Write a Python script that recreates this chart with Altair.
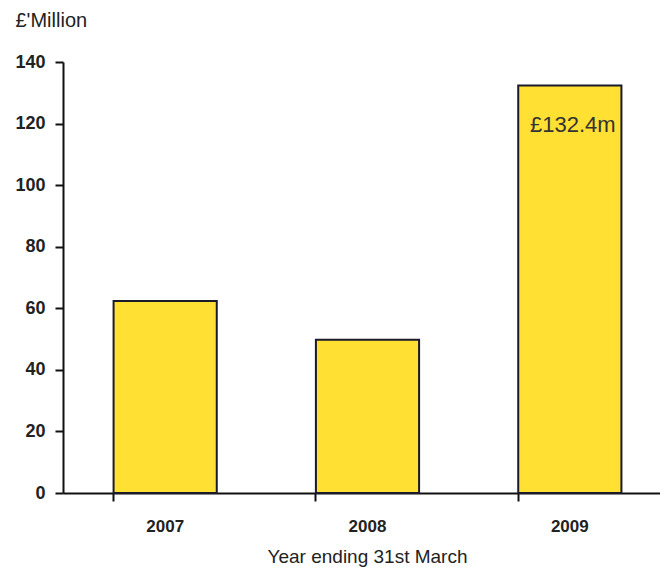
import altair as alt
import pandas as pd

years = ["2007", "2008", "2009"]
values = [62.4, 49.8, 132.4]
labels = ["", "", "£132.4m"]

df = pd.DataFrame({"year": years, "value": values, "label": labels})

FONT = "Liberation Sans"

base = alt.Chart(df).encode(
    x=alt.X("year:N", sort=years,
            scale=alt.Scale(paddingInner=0.49, paddingOuter=0.25, range=[0, 609]),
            axis=alt.Axis(title="Year ending 31st March", labelAngle=0,
                          bandPosition=0, tickSize=8, tickWidth=2,
                          tickColor="#111", domainColor="#111", domainWidth=2,
                          labelFont=FONT, labelFontSize=17, labelFontWeight="bold",
                          labelColor="#222", labelPadding=17,
                          titleFont=FONT, titleFontSize=19, titleFontWeight="normal",
                          titleColor="#222", titlePadding=13, titleX=304)),
)

bars = base.mark_bar(color="#FFE033", stroke="#1a1a2a", strokeWidth=2).encode(
    y=alt.Y("value:Q", scale=alt.Scale(domain=[0, 140], nice=False),
            axis=alt.Axis(values=[0, 20, 40, 60, 80, 100, 120, 140], grid=False,
                          tickSize=8, tickWidth=2, tickColor="#111",
                          domainColor="#111", domainWidth=2,
                          labelFont=FONT, labelFontSize=18, labelFontWeight="bold",
                          labelColor="#222", labelPadding=10,
                          title="£'Million", titleAngle=0, titleAlign="left",
                          titleBaseline="middle", titleX=-48, titleY=-42,
                          titleFont=FONT, titleFontSize=20, titleFontWeight="normal",
                          titleColor="#222"))
)

text = base.mark_text(font=FONT, fontSize=22, color="#333", baseline="middle",
                      dy=40, dx=3).encode(
    y=alt.Y("value:Q"),
    text="label:N",
)

chart = (bars + text).properties(
    width=597, height=431,
    autosize=alt.AutoSizeParams(type="none"),
    padding={"left": 55, "top": 54, "right": 0, "bottom": 77},
).configure_view(stroke=None)

chart.save("out.html", embed_options={"renderer": "svg", "actions": False})
